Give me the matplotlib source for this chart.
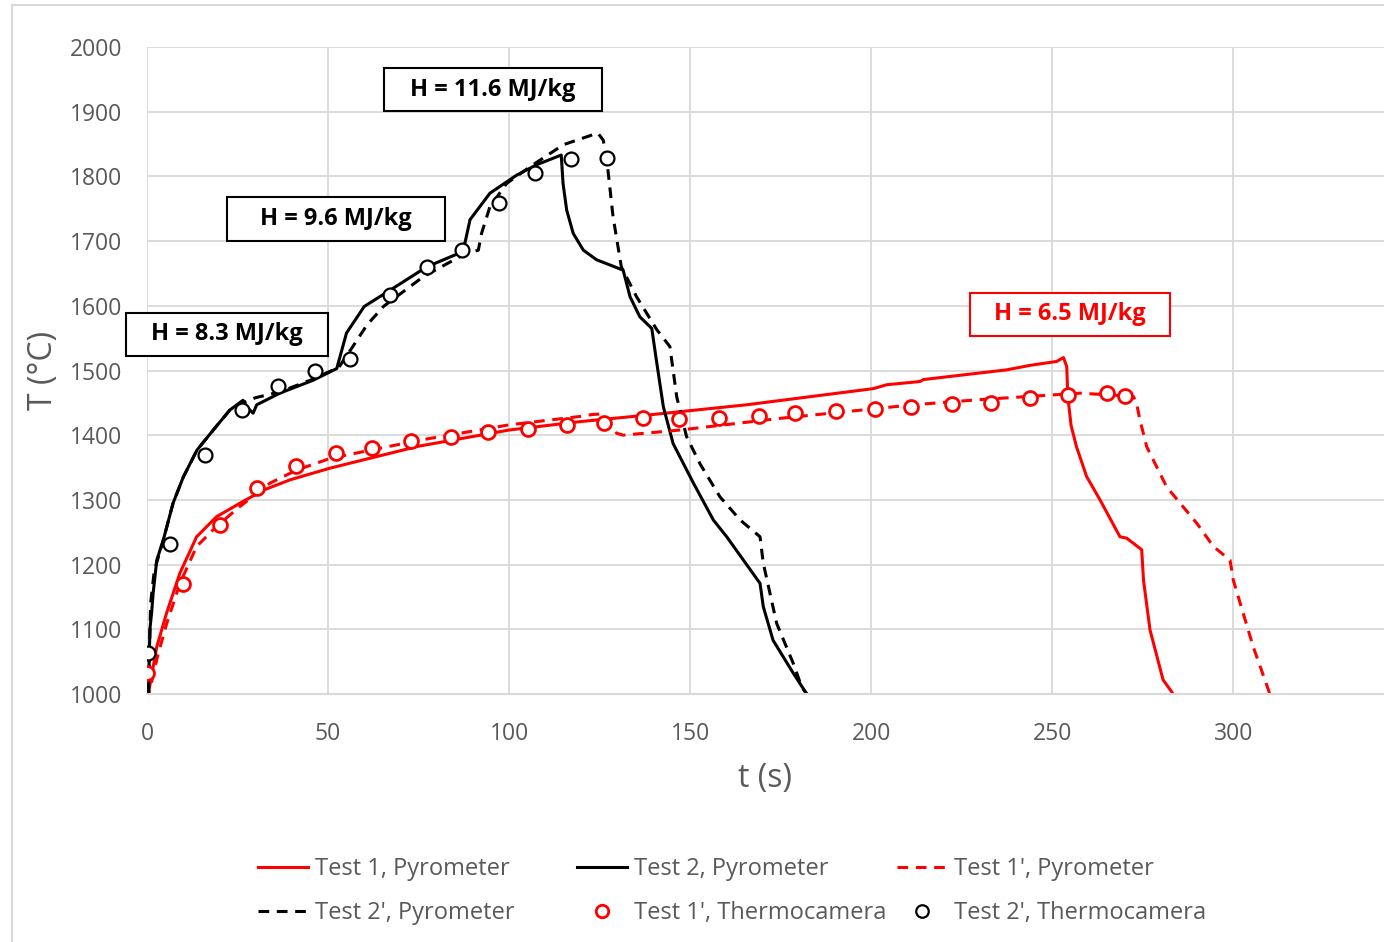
import numpy as np
import matplotlib.pyplot as plt
from matplotlib.patches import Rectangle

plt.rcParams['font.family'] = ['Open Sans', 'DejaVu Sans']

# Test 1, Pyrometer (red solid)
t1_t = [0, 0.4, 2.7, 5.4, 9.1, 13.7, 19.2, 25.7, 32.1, 39.5, 50.5, 75, 100, 119.6, 138, 165.6,
        200.6, 204.3, 213.5, 214.4, 237.4, 243.9, 251.2, 253.1, 254, 254.3, 255.2, 256.7, 259.5,
        263.2, 268.7, 270.5, 272.4, 274.7, 275.2, 277, 280.6, 283.4]
t1_T = [990, 1001, 1073, 1125, 1187, 1243, 1274, 1295, 1315, 1331, 1349, 1383, 1408, 1421, 1431,
        1447, 1472, 1478, 1483, 1486, 1501, 1508, 1514, 1520, 1506, 1460, 1415, 1382, 1336,
        1300, 1243, 1241, 1233, 1223, 1176, 1099, 1022, 1000]

# Test 2, Pyrometer (black solid)
t2_t = [0.4, 0.8, 1.3, 1.7, 2.7, 4.5, 7.2, 10, 13.8, 18.3, 22.9, 26.5, 27.5, 29.3, 30.3, 36.7,
        45.9, 52.4, 55.1, 60, 67.1, 77.2, 87.3, 89.2, 94.7, 102.1, 107.6, 114.4, 114.9, 115.9,
        117.7, 120.5, 124.2, 127.9, 131.5, 133.4, 136.1, 139.4, 140.8, 142.6, 145.3, 150.9,
        156.4, 160.1, 169.3, 170.2, 172.9, 178.5, 182.2]
t2_T = [1000, 1100, 1127, 1156, 1207, 1238, 1295, 1335, 1377, 1408, 1439, 1454, 1444, 1434, 1447,
        1465, 1485, 1503, 1558, 1599, 1624, 1660, 1684, 1733, 1774, 1802, 1818, 1833, 1789, 1748,
        1712, 1686, 1671, 1663, 1655, 1614, 1583, 1565, 1511, 1444, 1387, 1326, 1269, 1243,
        1171, 1135, 1083, 1032, 1000]

# Test 1', Pyrometer (red dashed)
t1p_t = [0, 0.5, 3, 5.5, 9.1, 13.7, 19.2, 25.7, 34, 41.3, 50.5, 75, 100, 119.6, 123, 126, 129.7,
         131.5, 147.2, 174.8, 211.6, 230, 257.7, 272.4, 273.3, 274.2, 276.1, 281.6, 289.9, 294.5,
         299.1, 300, 305.5, 310.1]
t1p_T = [990, 1000, 1060, 1110, 1171, 1228, 1259, 1290, 1326, 1346, 1364, 1392, 1416, 1429, 1432,
         1433, 1403, 1400, 1408, 1426, 1447, 1455, 1465, 1460, 1449, 1424, 1382, 1320, 1264, 1228,
         1207, 1176, 1073, 1000]

# Test 2', Pyrometer (black dashed)
t2p_t = [0.4, 1, 2, 4.5, 7.2, 10, 13.8, 18.3, 22.9, 26.5, 30, 36.7, 46, 53, 56.6, 60.7, 65.3, 76.3,
         87.4, 91.5, 92.4, 94.7, 99.3, 105.8, 115, 124.5, 126, 127, 128.7, 131, 135.2, 140.8,
         144.4, 146.3, 149, 152.7, 158.2, 163.8, 169.3, 170.2, 173.9, 178.5, 180.8, 182.2]
t2p_T = [1000, 1140, 1190, 1238, 1295, 1335, 1377, 1408, 1439, 1450, 1458, 1467, 1487, 1505, 1535,
         1570, 1599, 1645, 1679, 1686, 1712, 1753, 1789, 1815, 1849, 1867, 1856, 1825, 1738, 1660,
         1614, 1563, 1537, 1459, 1398, 1356, 1305, 1269, 1243, 1202, 1109, 1047, 1011, 1000]

# Test 1', Thermocamera (red circles)
c1_t = [0, 9.9, 20.2, 30.4, 41.1, 52.2, 62.1, 72.9, 84, 94.2, 105.2, 116, 126.2, 137, 146.9, 158,
        169, 179, 190.3, 201, 211, 222.3, 233.1, 243.9, 254.3, 265.1, 270]
c1_T = [1032, 1170, 1261, 1318, 1352, 1372, 1380, 1391, 1397, 1405, 1410, 1416, 1419, 1427, 1425,
        1427, 1430, 1434, 1437, 1440, 1444, 1448, 1450, 1457, 1462, 1465, 1460]

# Test 2', Thermocamera (black circles)
c2_t = [0.3, 6.4, 16, 26.2, 36.2, 46.4, 56.1, 67.1, 77.3, 87, 97.2, 107.2, 117.1, 127]
c2_T = [1063, 1232, 1369, 1439, 1476, 1499, 1518, 1617, 1660, 1686, 1759, 1805, 1827, 1828]

# annotation boxes: (text, centre t, centre T, box width in s, colour)
notes = [('H = 8.3 MJ/kg', 22.1, 1556, 55.8, 'black'),
         ('H = 9.6 MJ/kg', 52.2, 1734, 60.2, 'black'),
         ('H = 11.6 MJ/kg', 95.6, 1934, 60.2, 'black'),
         ('H = 6.5 MJ/kg', 254.9, 1587, 55.2, 'red')]
box_h = 67

grey = '#595959'
grid = '#d9d9d9'

fig = plt.figure(figsize=(13.84, 9.42), dpi=100)
ax = fig.add_axes([147 / 1384, 1 - 694 / 942, (1384 - 147) / 1384, 647 / 942])

lw = 2.2
dash = (3.5, 2.5)
l1, = ax.plot(t1_t, t1_T, color='red', lw=lw, label='Test 1, Pyrometer')
l2, = ax.plot(t2_t, t2_T, color='black', lw=lw, label='Test 2, Pyrometer')
l3, = ax.plot(t1p_t, t1p_T, color='red', lw=lw, dashes=dash, label="Test 1', Pyrometer")
l4, = ax.plot(t2p_t, t2p_T, color='black', lw=lw, dashes=dash, label="Test 2', Pyrometer")
m1, = ax.plot(c1_t, c1_T, ls='none', marker='o', ms=10, mfc='white', mec='red', mew=2,
              label="Test 1', Thermocamera")
m2, = ax.plot(c2_t, c2_T, ls='none', marker='o', ms=10, mfc='white', mec='black', mew=1.6,
              label="Test 2', Thermocamera")

for txt, x, y, w, c in notes:
    ax.add_patch(Rectangle((x - w / 2, y - box_h / 2), w, box_h, fc='white', ec=c, lw=1.5,
                           zorder=5, clip_on=False))
    ax.text(x, y, txt, color=c, fontsize=17, fontweight='bold', ha='center', va='center',
            zorder=6, clip_on=False)

ax.set_xlim(0, (1384 - 147) / 3.621)
ax.set_ylim(1000, 2000)
ax.set_xticks(np.arange(0, 301, 50))
ax.set_yticks(np.arange(1000, 2001, 100))
ax.grid(True, color=grid, lw=1.3)
ax.set_axisbelow(True)
for s in ax.spines.values():
    s.set_visible(False)
ax.spines['bottom'].set_visible(True)
ax.spines['bottom'].set_color(grid)
ax.spines['bottom'].set_linewidth(1.5)
ax.tick_params(length=0, labelsize=16.5, labelcolor=grey)
ax.tick_params(axis='y', pad=18)
ax.tick_params(axis='x', pad=20)
ax.set_xlabel('t (s)', fontsize=23, color=grey, labelpad=12)
ax.set_ylabel('T (°C)', fontsize=23, color=grey, labelpad=7)

# three legend columns, each placed where the reference puts it
cols = [([l1, l4], 258), ([l2, m1], 577), ([l3, m2], 897)]
for hs, xpx in cols:
    fig.legend(handles=hs, labels=[h.get_label() for h in hs], loc='upper left',
               bbox_to_anchor=(xpx / 1384, 1 - 857 / 942), frameon=False,
               borderpad=0, borderaxespad=0, fontsize=17, labelcolor=grey,
               handlelength=2.1, handletextpad=0.3, labelspacing=0.85, markerscale=0.9)

fig.patches.append(Rectangle((12 / 1384, -0.05), 1.1, 1.05 - 5 / 942,
                             transform=fig.transFigure, fill=False, ec=grid, lw=1.5))

fig.savefig('out.png', dpi=100)
